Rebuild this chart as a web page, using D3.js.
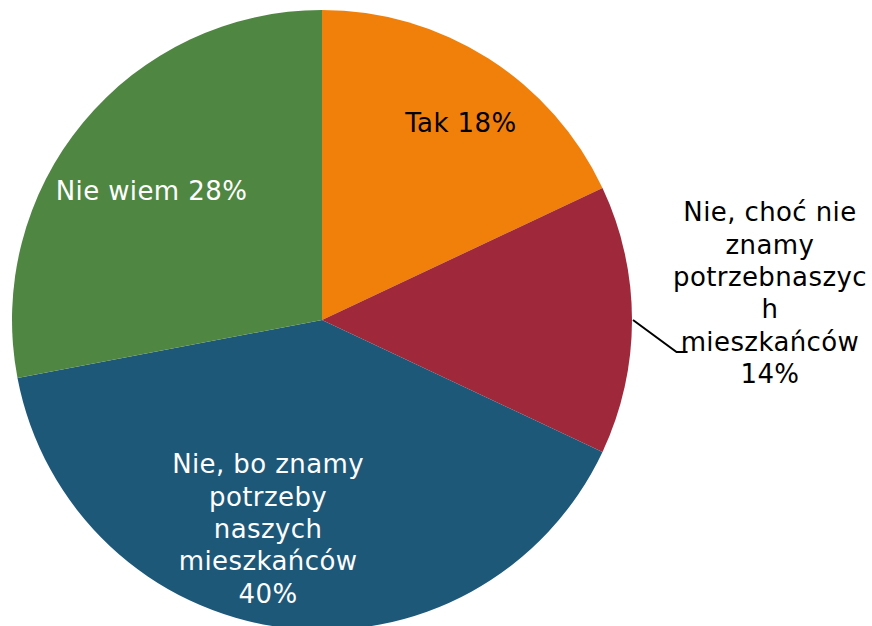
<!DOCTYPE html>
<html lang="pl">
<head>
    <meta charset="UTF-8">
    <title>Pie</title>
    <style>
        body { margin: 0; background: #fff; }
        svg text { font-family: "DejaVu Sans", Verdana, sans-serif; font-size: 26px; letter-spacing: 0.4px; }
    </style>
</head>
<body>
    <div id="chart"></div>
    <script src="https://d3js.org/d3.v7.min.js"></script>
    <script>
        // dane
        const categories = [
            ["Tak 18%"],
            ["Nie, choć nie", "znamy", "potrzebnaszyc", "h", "mieszkańców", "14%"],
            ["Nie, bo znamy", "potrzeby", "naszych", "mieszkańców", "40%"],
            ["Nie wiem 28%"]
        ];
        const values = [18, 14, 40, 28];
        const colors = ["#F0800A", "#9F283A", "#1E5879", "#4F8642"];
        const textColors = ["#000", "#000", "#fff", "#fff"];

        // układ etykiet: [promień, przesunięcie kąta w stopniach]
        const labelLayout = [[241.5, 2.7], [448.8, -3.5], [215.4, 7.3], [214.4, -2.3]];

        const width = 872, height = 626;
        const cx = 322, cy = 320, R = 310, lh = 32.3;

        const svg = d3.select("#chart").append("svg")
            .attr("width", width)
            .attr("height", height);

        const g = svg.append("g").attr("transform", `translate(${cx},${cy})`);

        const pie = d3.pie().sort(null).value(d => d);
        const arc = d3.arc().innerRadius(0).outerRadius(R);
        const arcs = pie(values);

        g.selectAll("path").data(arcs).join("path")
            .attr("d", arc)
            .attr("fill", (d, i) => colors[i]);

        const polar = (a, r) => [r * Math.sin(a), -r * Math.cos(a)];

        // linia odniesienia dla etykiety zewnętrznej
        {
            const d = arcs[1];
            const mid = (d.startAngle + d.endAngle) / 2;
            const p0 = polar(mid, R + 1);
            const p1 = polar(mid + 0.09, R + 46);
            g.append("polyline")
                .attr("points", [p0, p1, [p1[0] + 11, p1[1]]].map(p => p.join(",")).join(" "))
                .attr("fill", "none")
                .attr("stroke", "#000")
                .attr("stroke-width", 2);
        }

        arcs.forEach((d, i) => {
            const mid = (d.startAngle + d.endAngle) / 2;
            const [r, shift] = labelLayout[i];
            const [x, y] = polar(mid + shift * Math.PI / 180, r);
            const lines = categories[i];
            const t = g.append("text")
                .attr("text-anchor", "middle")
                .attr("fill", textColors[i]);
            lines.forEach((s, k) => {
                t.append("tspan")
                    .attr("x", x)
                    .attr("y", y - (lines.length - 1) / 2 * lh + k * lh + 9.5)
                    .text(s);
            });
        });
    </script>
</body>
</html>
